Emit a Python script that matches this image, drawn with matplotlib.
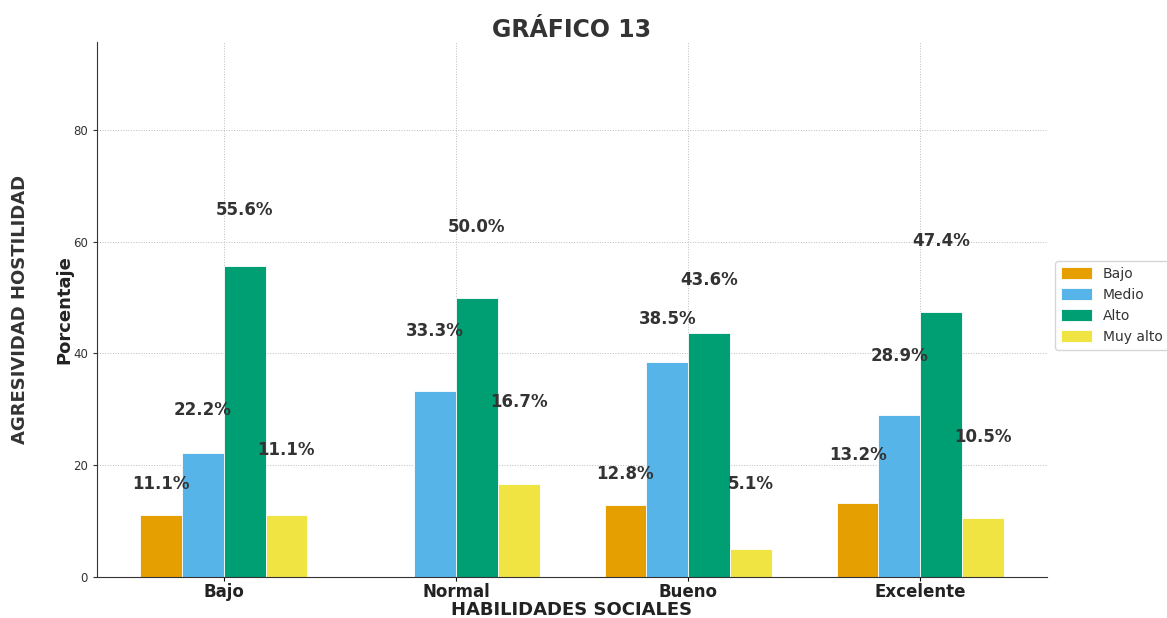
import numpy as np
import matplotlib
matplotlib.use('Agg')
import matplotlib.pyplot as plt

categories = ['Bajo', 'Normal', 'Bueno', 'Excelente']
series = ['Bajo', 'Medio', 'Alto', 'Muy alto']
bajo = [11.1, 0.0, 12.8, 13.2]
medio = [22.2, 33.3, 38.5, 28.9]
alto = [55.6, 50.0, 43.6, 47.4]
muy_alto = [11.1, 16.7, 5.1, 10.5]

colors = ['#E69F00', '#56B4E9', '#009E73', '#F0E442']
# vertical offsets of the percentage labels (per category, per series)
label_offsets = [[5.5, 7.7, 10.0, 11.6],
                 [8.7, 10.7, 12.6, 14.6],
                 [5.6, 7.7, 9.6, 11.5],
                 [8.6, 10.7, 12.7, 14.6]]

txt = '#333333'
fig = plt.figure(figsize=(11.67, 6.18), dpi=100)
ax = fig.add_axes([0.0831, 0.0663, 0.8141, 0.8657])

x = np.arange(len(categories))
w = 0.18
all_vals = [bajo, medio, alto, muy_alto]
for i, (name, vals) in enumerate(zip(series, all_vals)):
    pos = x + (i - 1.5) * w
    ax.bar(pos, vals, w, label=name, color=colors[i], edgecolor='white', linewidth=0.6, zorder=2)
    for j, v in enumerate(vals):
        if v > 0:
            ax.text(pos[j], v + label_offsets[j][i], f'{v:.1f}%', ha='center', va='center',
                    fontsize=12, fontweight='bold', color=txt, zorder=3)

ax.set_ylim(0, 95.7)
ax.set_yticks([0, 20, 40, 60, 80])
ax.set_xticks(x)
ax.set_xticklabels(categories, fontsize=12, fontweight='bold', color='#222222')
ax.tick_params(axis='y', labelsize=8.5, colors=txt, length=3)
ax.tick_params(axis='x', length=3, pad=1)
ax.grid(True, linestyle=':', color='#bbbbbb', linewidth=0.7, zorder=0)
ax.set_axisbelow(True)
for s in ['top', 'right']:
    ax.spines[s].set_visible(False)
ax.spines['left'].set_color('#333333')
ax.spines['bottom'].set_color('#333333')

ax.set_title('GRÁFICO 13', fontsize=17, fontweight='bold', color=txt, pad=2)
ax.set_xlabel('HABILIDADES SOCIALES', fontsize=13, fontweight='bold', color='#222222', labelpad=0)
ax.set_ylabel('Porcentaje', fontsize=13, fontweight='bold', color='#222222', labelpad=0)
fig.text(0.0175, 0.5, 'AGRESIVIDAD HOSTILIDAD', rotation=90, ha='center', va='center',
         fontsize=13, fontweight='bold', color=txt)

ax.legend(loc='upper left', bbox_to_anchor=(0.904, 0.578), bbox_transform=fig.transFigure,
          fontsize=10, frameon=True, borderaxespad=0, labelcolor=txt,
          handlelength=2.2, handleheight=0.9, handletextpad=0.8, borderpad=0.45)

fig.savefig('out.png', dpi=100)
